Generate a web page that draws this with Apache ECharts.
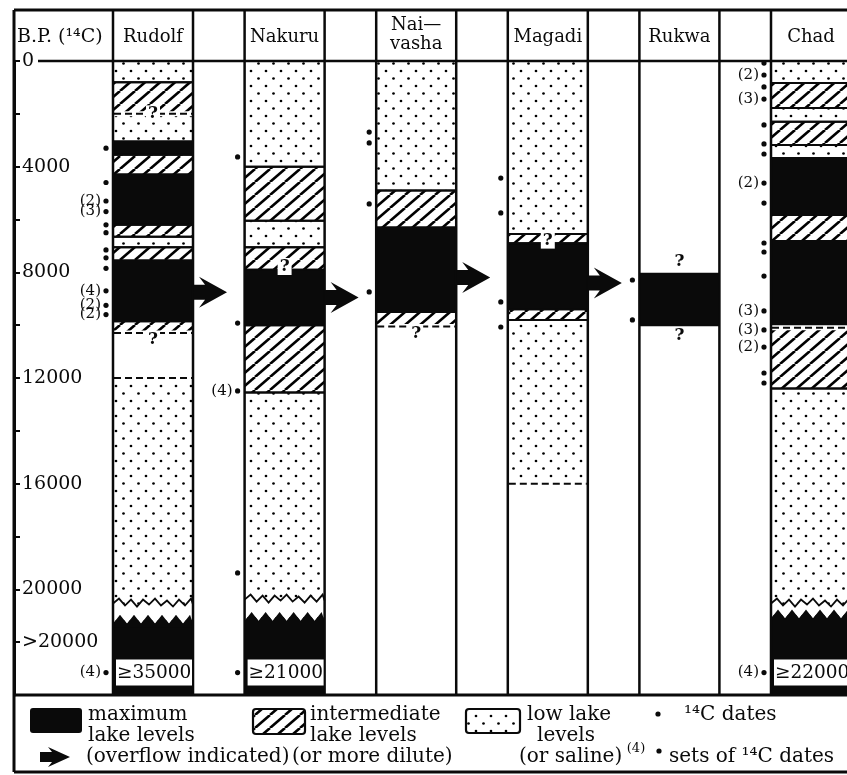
<!DOCTYPE html>
<html>
<head>
<meta charset="utf-8">
<script src="https://cdn.jsdelivr.net/npm/echarts@6.0.0/dist/echarts.min.js"></script>
<style>
html,body{margin:0;padding:0;background:#ffffff;}
#chart{width:847px;height:775px;}
</style>
</head>
<body>
<div id="chart"></div>
<script>
// ================= DATA =================
const lakeKeys = ['Rudolf', 'Nakuru', 'Naivasha', 'Magadi', 'Rukwa', 'Chad'];
const lakeHeaders = ['Rudolf', 'Nakuru', 'Nai\u2014\nvasha', 'Magadi', 'Rukwa', 'Chad'];
const levelKinds = ['max', 'mid', 'low'];           // maximum / intermediate / low lake levels
const tickValues = [0, 4000, 8000, 12000, 16000, 20000, 22000];
const tickLabels = ['0', '4000', '8000', '12000', '16000', '20000', '>20000'];

// lake-level intervals in years B.P.: [from, to, level]
const rudolfLevels = [[0, 800, 'low'], [800, 2000, 'mid'], [2000, 3050, 'low'], [3050, 3550, 'max'], [3550, 4300, 'mid'],
  [4300, 6200, 'max'], [6200, 6650, 'mid'], [6650, 7050, 'low'], [7050, 7550, 'mid'], [7550, 9850, 'max'],
  [9850, 10300, 'mid'], [12000, 20500, 'low'], [21150, 24000, 'max']];
const nakuruLevels = [[0, 4000, 'low'], [4000, 6050, 'mid'], [6050, 7050, 'low'], [7050, 7900, 'mid'], [7900, 10000, 'max'],
  [10000, 12550, 'mid'], [12550, 20350, 'low'], [21050, 24000, 'max']];
const naivashaLevels = [[0, 4900, 'low'], [4900, 6300, 'mid'], [6300, 9500, 'max'], [9500, 10050, 'mid']];
const magadiLevels = [[0, 6550, 'low'], [6550, 6900, 'mid'], [6900, 9400, 'max'], [9400, 9800, 'mid'], [9800, 16000, 'low']];
const rukwaLevels = [[8050, 10000, 'max']];
const chadLevels = [[0, 830, 'low'], [830, 1780, 'mid'], [1780, 2300, 'low'], [2300, 3180, 'mid'], [3180, 3670, 'low'],
  [3670, 5830, 'max'], [5830, 6810, 'mid'], [6810, 10100, 'max'], [10100, 12400, 'mid'], [12400, 20500, 'low'],
  [20950, 24000, 'max']];

// 14C dates: [years B.P., number of dates in set]
const rudolfDates = [[3300, 1], [4600, 1], [5300, 2], [5700, 3], [6200, 1], [6500, 1], [7150, 1], [7450, 1], [7850, 1],
  [8700, 4], [9250, 2], [9600, 2]];
const nakuruDates = [[3630, 1], [9920, 1], [12490, 4], [19380, 1]];
const naivashaDates = [[2690, 1], [3100, 1], [5410, 1], [8740, 1]];
const magadiDates = [[4430, 1], [5750, 1], [9120, 1], [10070, 1]];
const rukwaDates = [[8290, 1], [9800, 1]];
const chadDates = [[80, 1], [530, 2], [980, 1], [1440, 3], [2420, 1], [3140, 1], [3520, 1], [4620, 2], [5380, 1],
  [6890, 1], [7230, 1], [8140, 1], [9460, 3], [10180, 3], [10830, 2], [11810, 1], [12190, 1]];
const oldestDates = [['Rudolf', '\u226535000', 4], ['Nakuru', '\u226521000', 1], ['Chad', '\u226522000', 4]];

const overflowArrows = [['Rudolf', 8750], ['Nakuru', 8950], ['Naivasha', 8200], ['Magadi', 8400]];
const breaks = [['Rudolf', 20500, 21150], ['Nakuru', 20350, 21050], ['Chad', 20500, 20950]];
const uncertainBoundaries = [['Rudolf', 2000], ['Rudolf', 10300], ['Rudolf', 12000], ['Naivasha', 10050], ['Magadi', 16000], ['Chad', 10100]];
const queries = [['Rudolf', 2000], ['Rudolf', 10560], ['Nakuru', 7780], ['Naivasha', 10300], ['Magadi', 6780], ['Rukwa', 7600], ['Rukwa', 10400]];

// ================= STYLE / LAYOUT CONSTANTS =================
const Y_MAX = 24000;
const OLDEST_SLOT = 23150;
const COLW = 0.608;          // share of each band taken by the lake column
const AXIS_OFFSET = 99;
const HEADER_H = 51;
const LEGEND_H = 77;
const INK = '#0a0a0a';
const SERIF = '"DejaVu Serif", serif';

function makeDots() {
  const c = document.createElement('canvas'); c.width = 15; c.height = 15;
  const g = c.getContext('2d');
  g.fillStyle = '#fff'; g.fillRect(0, 0, 15, 15);
  g.fillStyle = '#000';
  [[3.5, 3.5], [11, 11]].forEach(p => { g.beginPath(); g.arc(p[0], p[1], 1.35, 0, Math.PI * 2); g.fill(); });
  return c;
}
function makeHatch() {
  const w = 15, h = 13;
  const c = document.createElement('canvas'); c.width = w; c.height = h;
  const g = c.getContext('2d');
  g.fillStyle = '#fff'; g.fillRect(0, 0, w, h);
  g.strokeStyle = '#000'; g.lineWidth = 2.6;
  for (let k = -1; k <= 1; k++) { g.beginPath(); g.moveTo(k * w, h); g.lineTo(k * w + w, 0); g.stroke(); }
  return c;
}
const dotsFill = { image: makeDots(), repeat: 'repeat' };
const hatchFill = { image: makeHatch(), repeat: 'repeat' };
const fills = [INK, hatchFill, dotsFill];

const lakeIdx = k => lakeKeys.indexOf(k);
const levelSets = [rudolfLevels, nakuruLevels, naivashaLevels, magadiLevels, rukwaLevels, chadLevels];
const dateSets = [rudolfDates, nakuruDates, naivashaDates, magadiDates, rukwaDates, chadDates];

const layerData = [];
levelSets.forEach((set, i) => set.forEach(([a, b, k]) => layerData.push([i, a, b, levelKinds.indexOf(k)])));
const dateData = [];
dateSets.forEach((set, i) => set.forEach(([v, n]) => dateData.push([i, v, n])));
const oldestData = oldestDates.map((d, j) => [lakeIdx(d[0]), OLDEST_SLOT, d[2], j]);
const arrowData = overflowArrows.map(d => [lakeIdx(d[0]), d[1]]);
const breakData = breaks.map(d => [lakeIdx(d[0]), d[1], d[2]]);
const uncertainData = uncertainBoundaries.map(d => [lakeIdx(d[0]), d[1]]);
const queryData = queries.map(d => [lakeIdx(d[0]), d[1]]);

const isUncertain = (i, v) => uncertainData.some(u => u[0] === i && u[1] === v);
const isBreakEdge = (i, v) => breakData.some(b => b[0] === i && (b[1] === v || b[2] === v));

function colBox(api, i) {
  const bw = api.size([1, 0])[0];
  const cx = api.coord([i, 0])[0];
  const x0 = cx - bw / 2;
  return { x0: x0, x1: x0 + bw * COLW, w: bw * COLW, bw: bw };
}
function txt(text, x, y, font, align, vAlign, extra) {
  return Object.assign({ text: text, x: x, y: y, font: font, fill: INK, align: align, verticalAlign: vAlign,
    textAlign: align, textVerticalAlign: vAlign }, extra || {});
}

// ================= RENDERERS =================
function renderLayer(params, api) {
  const i = api.value(0), a = api.value(1), b = api.value(2), lv = api.value(3);
  const c = colBox(api, i);
  const ya = api.coord([i, a])[1], yb = api.coord([i, b])[1];
  return { type: 'rect', shape: { x: c.x0, y: ya, width: c.w, height: yb - ya }, style: { fill: fills[lv] } };
}
function renderEdges(params, api) {
  const i = api.value(0), a = api.value(1), b = api.value(2);
  const c = colBox(api, i);
  const kids = [];
  [a, b].forEach(v => {
    if (v === 0 || v === Y_MAX || isUncertain(i, v) || isBreakEdge(i, v)) return;
    const y = api.coord([i, v])[1];
    kids.push({ type: 'line', shape: { x1: c.x0, y1: y, x2: c.x1, y2: y }, style: { stroke: INK, lineWidth: 2 } });
  });
  return { type: 'group', children: kids };
}
function renderUncertain(params, api) {
  const i = api.value(0), v = api.value(1);
  const c = colBox(api, i);
  const y = api.coord([i, v])[1];
  return { type: 'group', children: [
    { type: 'line', shape: { x1: c.x0 + 1, y1: y, x2: c.x1 - 1, y2: y }, style: { stroke: '#fff', lineWidth: 5 } },
    { type: 'line', shape: { x1: c.x0 + 1, y1: y, x2: c.x1 - 1, y2: y }, style: { stroke: INK, lineWidth: 2, lineDash: [7, 4] } }
  ] };
}
const TOP_ZIG = [1, -4, 3, -3, 4, -3, 2, -4, 3, -2, 4, -3, 3, -4, 2, -3];
function renderBreak(params, api) {
  const i = api.value(0), a = api.value(1), b = api.value(2);
  const c = colBox(api, i);
  const yt = api.coord([i, a])[1], yb = api.coord([i, b])[1];
  const top = [], bot = [];
  const n1 = Math.ceil(c.w / 6);
  for (let k = 0; k <= n1; k++) top.push([Math.min(c.x0 + k * 6, c.x1), yt + TOP_ZIG[k % TOP_ZIG.length]]);
  const n2 = Math.ceil(c.w / 7);
  for (let k = 0; k <= n2; k++) bot.push([Math.min(c.x0 + k * 7, c.x1), yb + (k % 2 ? -5 : 4)]);
  const dotsPoly = [[c.x0, yt - 7], [c.x1, yt - 7]].concat(top.slice().reverse());
  const whitePoly = top.concat(bot.slice().reverse());
  const blackPoly = bot.concat([[c.x1, yb + 8], [c.x0, yb + 8]]);
  return { type: 'group', children: [
    { type: 'polygon', shape: { points: dotsPoly }, style: { fill: dotsFill } },
    { type: 'polygon', shape: { points: whitePoly }, style: { fill: '#fff' } },
    { type: 'polygon', shape: { points: blackPoly }, style: { fill: INK } },
    { type: 'polyline', shape: { points: top }, style: { stroke: INK, lineWidth: 1.8, fill: null } }
  ] };
}
function renderFrame(params, api) {
  const cs = params.coordSys;
  const xL = cs.x - AXIS_OFFSET;
  const y0 = api.coord([0, 0])[1];
  const yB = api.coord([0, Y_MAX])[1];
  const yTop = y0 - HEADER_H;
  const yLeg = yB + LEGEND_H;
  const xR = cs.x + cs.width + 10;
  const kids = [];
  const L = (x1, y1, x2, y2, w) => kids.push({ type: 'line', shape: { x1: x1, y1: y1, x2: x2, y2: y2 }, style: { stroke: INK, lineWidth: w } });
  const yHead = (yTop + y0) / 2 + 2;
  lakeKeys.forEach((k, i) => {
    const c = colBox(api, i);
    L(c.x0, yTop, c.x0, yB, 2.5);
    L(c.x1, yTop, c.x1, yB, 2.5);
    kids.push({ type: 'text', style: txt(lakeHeaders[i], (c.x0 + c.x1) / 2, yHead - (i === 2 ? 3 : 0), '18px ' + SERIF, 'center', 'middle', { lineHeight: 19 }) });
  });
  L(xL, yTop, xR, yTop, 3);
  L(xL, yTop, xL, yLeg, 3);
  L(xL + 24, y0, xR, y0, 2.5);
  L(xL, yB, xR, yB, 3);
  L(xL, yLeg, xR, yLeg, 3);
  kids.push({ type: 'text', style: txt('B.P. (\u00b9\u2074C)', xL + 3, yHead, '19px ' + SERIF, 'left', 'middle') });
  return { type: 'group', children: kids };
}
function renderDate(params, api) {
  const i = api.value(0), v = api.value(1), n = api.value(2);
  const c = colBox(api, i);
  const x = c.x0 - 7, y = api.coord([i, v])[1];
  const kids = [{ type: 'circle', shape: { cx: x, cy: y, r: 2.6 }, style: { fill: INK } }];
  if (n > 1) kids.push({ type: 'text', style: txt('(' + n + ')', x - 5, y, '15px ' + SERIF, 'right', 'middle') });
  return { type: 'group', children: kids };
}
function renderOldest(params, api) {
  const i = api.value(0), v = api.value(1), n = api.value(2), j = api.value(3);
  const c = colBox(api, i);
  const y = api.coord([i, v])[1];
  const x = c.x0 - 7;
  const kids = [
    { type: 'rect', shape: { x: c.x0 + 3, y: y - 13, width: c.w - 4, height: 26 }, style: { fill: '#fff' } },
    { type: 'text', style: txt(oldestDates[j][1], c.x0 + 4, y + 1, '18.5px ' + SERIF, 'left', 'middle') },
    { type: 'circle', shape: { cx: x, cy: y, r: 2.6 }, style: { fill: INK } }
  ];
  if (n > 1) kids.push({ type: 'text', style: txt('(' + n + ')', x - 5, y, '15px ' + SERIF, 'right', 'middle') });
  return { type: 'group', children: kids };
}
function renderArrow(params, api) {
  const i = api.value(0), v = api.value(1);
  const c = colBox(api, i);
  const y = api.coord([i, v])[1];
  const x = c.x1;
  const rel = [[0, -7.5], [12, -7.5], [6, -15.5], [34, 0], [6, 15.5], [12, 7.5], [0, 7.5]];
  return { type: 'polygon', shape: { points: rel.map(p => [x + p[0], y + p[1]]) }, style: { fill: INK } };
}
function renderQuery(params, api) {
  const i = api.value(0), v = api.value(1);
  const c = colBox(api, i);
  const y = api.coord([i, v])[1];
  return { type: 'text', style: txt('?', (c.x0 + c.x1) / 2, y, 'bold 17px ' + SERIF, 'center', 'middle',
    { backgroundColor: '#fff', padding: [0, 2, 0, 2] }) };
}

// ================= LEGEND (graphic) =================
const LF = '20px ' + SERIF;
const legendEls = [
  { type: 'rect', shape: { x: 30, y: 708, width: 52, height: 25, r: 3 }, style: { fill: INK } },
  { type: 'text', style: txt('maximum', 88, 715, LF, 'left', 'middle') },
  { type: 'text', style: txt('lake levels', 88, 736, LF, 'left', 'middle') },
  { type: 'polygon', shape: { points: [[40, 752], [52, 752], [48, 747], [70, 757], [48, 767], [52, 762], [40, 762]] }, style: { fill: INK } },
  { type: 'text', style: txt('(overflow indicated)', 86, 757, LF, 'left', 'middle') },
  { type: 'rect', shape: { x: 253, y: 709, width: 52, height: 25, r: 3 }, style: { fill: hatchFill, stroke: INK, lineWidth: 2.2 } },
  { type: 'text', style: txt('intermediate', 310, 715, LF, 'left', 'middle') },
  { type: 'text', style: txt('lake levels', 310, 736, LF, 'left', 'middle') },
  { type: 'text', style: txt('(or more dilute)', 292, 757, LF, 'left', 'middle') },
  { type: 'rect', shape: { x: 466, y: 709, width: 54, height: 24, r: 3 }, style: { fill: dotsFill, stroke: INK, lineWidth: 2.2 } },
  { type: 'text', style: txt('low lake', 527, 715, LF, 'left', 'middle') },
  { type: 'text', style: txt('levels', 566, 736, LF, 'center', 'middle') },
  { type: 'text', style: txt('(or saline)', 519, 757, LF, 'left', 'middle') },
  { type: 'circle', shape: { cx: 658, cy: 714, r: 2.6 }, style: { fill: INK } },
  { type: 'text', style: txt('\u00b9\u2074C dates', 684, 715, LF, 'left', 'middle') },
  { type: 'text', style: txt('(4)', 636, 749, '13px ' + SERIF, 'center', 'middle') },
  { type: 'circle', shape: { cx: 659, cy: 751, r: 2.6 }, style: { fill: INK } },
  { type: 'text', style: txt('sets of \u00b9\u2074C dates', 669, 757, LF, 'left', 'middle') }
];

// ================= CHART =================
const chart = echarts.init(document.getElementById('chart'), null, { renderer: 'canvas', width: 847, height: 775 });
const common = { type: 'custom', silent: true, animation: false, clip: false };
chart.setOption({
  animation: false,
  backgroundColor: '#ffffff',
  grid: { left: 113, width: 789.6, top: 61, bottom: 80, containLabel: false, outerBoundsMode: 'none' },
  xAxis: { type: 'category', data: lakeKeys, show: false, boundaryGap: true },
  yAxis: {
    type: 'value', inverse: true, min: 0, max: Y_MAX, interval: 2000, position: 'left', offset: AXIS_OFFSET,
    axisLine: { show: true, lineStyle: { color: INK, width: 3 } },
    axisTick: { show: true, inside: true, length: 6, lineStyle: { color: INK, width: 2 } },
    axisLabel: {
      inside: true, margin: 8, color: INK, fontFamily: SERIF, fontSize: 19, showMinLabel: true, showMaxLabel: true,
      formatter: v => { const k = tickValues.indexOf(v); return k < 0 ? '' : tickLabels[k]; }
    },
    splitLine: { show: false }
  },
  graphic: { elements: legendEls },
  series: [
    Object.assign({}, common, { name: 'levels', z: 2, data: layerData, encode: { x: 0, y: [1, 2] }, renderItem: renderLayer }),
    Object.assign({}, common, { name: 'edges', z: 3, data: layerData, encode: { x: 0, y: [1, 2] }, renderItem: renderEdges }),
    Object.assign({}, common, { name: 'uncertain', z: 4, data: uncertainData, encode: { x: 0, y: 1 }, renderItem: renderUncertain }),
    Object.assign({}, common, { name: 'breaks', z: 5, data: breakData, encode: { x: 0, y: [1, 2] }, renderItem: renderBreak }),
    Object.assign({}, common, { name: 'frame', z: 6, data: [[0, 0]], encode: { x: 0, y: 1 }, renderItem: renderFrame }),
    Object.assign({}, common, { name: '14C dates', z: 7, data: dateData, encode: { x: 0, y: 1 }, renderItem: renderDate }),
    Object.assign({}, common, { name: 'oldest', z: 7, data: oldestData, encode: { x: 0, y: 1 }, renderItem: renderOldest }),
    Object.assign({}, common, { name: 'overflow', z: 7, data: arrowData, encode: { x: 0, y: 1 }, renderItem: renderArrow }),
    Object.assign({}, common, { name: 'queries', z: 8, data: queryData, encode: { x: 0, y: 1 }, renderItem: renderQuery })
  ]
});
</script>
</body>
</html>
